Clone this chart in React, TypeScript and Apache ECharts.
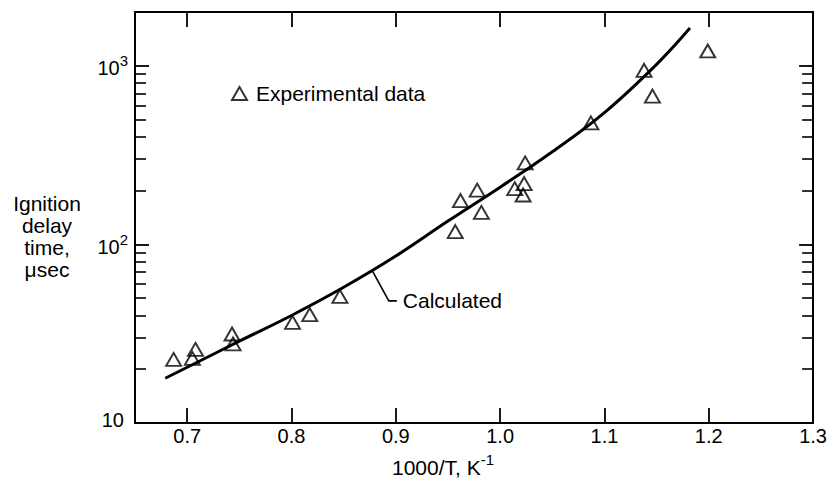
import React, { useEffect, useRef } from "react";
import * as echarts from "echarts";

const FONT = "'Liberation Sans', Arial, Helvetica, sans-serif";

// Axis ticks and labels
const xTickValues = [0.7, 0.8, 0.9, 1.0, 1.1, 1.2];
const xLabelValues = [0.7, 0.8, 0.9, 1.0, 1.1, 1.2, 1.3];
const yLabelValues = [10, 100, 1000];
const yMajorTicks = [100, 1000];
const yMinorTicks = [20, 30, 40, 50, 60, 70, 80, 90, 200, 300, 400, 500, 600, 700, 800, 900];

// Experimental data: [1000/T (1/K), ignition delay (µsec)]
const expX = [0.687, 0.705, 0.708, 0.743, 0.744, 0.801, 0.8175, 0.8464, 0.957, 0.962, 0.978, 0.982, 1.014, 1.022, 1.023, 1.024, 1.087, 1.138, 1.146, 1.199];
const expY = [22.7, 23.0, 25.8, 31.5, 27.7, 36.6, 40.4, 51.2, 118, 176, 201, 151, 205, 189, 219, 286, 479, 943, 677, 1210];

// Calculated curve
const calcX = [0.679, 0.75, 0.8, 0.85, 0.9, 0.95, 1.0, 1.05, 1.1, 1.15, 1.182];
const calcY = [17.8, 28.7, 40.0, 57.5, 86, 135, 209, 330, 547, 1019, 1626];

// Anchor of the "Calculated" leader on the curve
const calcLabelPoint = [0.877, 72];

export default function App() {
  const ref = useRef<HTMLDivElement>(null);

  useEffect(() => {
    if (!ref.current) return;
    const chart = echarts.init(ref.current, undefined, { renderer: "svg" });

    const axisLine = { show: true, lineStyle: { color: "#000", width: 2 } };
    const xAxisBase = {
      type: "value",
      min: 0.65,
      max: 1.3,
      axisLine,
      splitLine: { show: false },
      axisTick: {
        show: true,
        inside: true,
        length: 15,
        customValues: xTickValues,
        lineStyle: { color: "#000", width: 1.8 },
      },
    };
    const yBase = {
      type: "log",
      logBase: 10,
      min: 10,
      max: 2000,
      splitLine: { show: false },
    };

    const option = {
      animation: false,
      backgroundColor: "#fff",
      textStyle: { fontFamily: FONT },
      grid: { left: 135, right: 13, top: 12, bottom: 60, containLabel: false },
      legend: {
        data: ["Experimental data"],
        left: 226,
        top: 78,
        itemWidth: 15,
        itemHeight: 13,
        textStyle: { fontSize: 21, color: "#000", fontFamily: FONT, padding: [0, 0, 0, 4] },
      },
      xAxis: [
        {
          ...xAxisBase,
          position: "bottom",
          axisLabel: {
            show: true,
            customValues: xLabelValues,
            formatter: (v: number) => v.toFixed(1),
            fontSize: 20,
            color: "#000",
            fontFamily: FONT,
            margin: 3,
          },
        },
        {
          ...xAxisBase,
          position: "top",
          axisLabel: { show: false },
        },
      ],
      yAxis: [
        {
          ...yBase,
          position: "left",
          axisLine,
          axisTick: {
            show: true,
            inside: true,
            length: 14,
            customValues: yMajorTicks,
            lineStyle: { color: "#000", width: 1.8 },
          },
          axisLabel: {
            show: true,
            customValues: yLabelValues,
            margin: 7,
            formatter: (v: number) => {
              const e = Math.round(Math.log10(v));
              return e === 1 ? "{b|10}" : "{n|10}{s|" + e + "}";
            },
            rich: {
              n: { fontSize: 20, lineHeight: 25, verticalAlign: "bottom", color: "#000", fontFamily: FONT },
              b: { fontSize: 20, lineHeight: 20, color: "#000", fontFamily: FONT, padding: [0, 4, 6, 0] },
              s: { fontSize: 15, lineHeight: 15, verticalAlign: "top", color: "#000", fontFamily: FONT },
            },
          },
        },
        {
          ...yBase,
          position: "right",
          axisLine,
          axisTick: {
            show: true,
            inside: true,
            length: 14,
            customValues: yMajorTicks,
            lineStyle: { color: "#000", width: 1.8 },
          },
          axisLabel: { show: false },
        },
        {
          ...yBase,
          position: "left",
          axisLine: { show: false },
          axisTick: {
            show: true,
            inside: true,
            length: 11,
            customValues: yMinorTicks,
            lineStyle: { color: "#000", width: 1.6 },
          },
          axisLabel: { show: false },
        },
        {
          ...yBase,
          position: "right",
          axisLine: { show: false },
          axisTick: {
            show: true,
            inside: true,
            length: 11,
            customValues: yMinorTicks,
            lineStyle: { color: "#000", width: 1.6 },
          },
          axisLabel: { show: false },
        },
      ],
      graphic: [
        {
          type: "text",
          x: 47,
          y: 192,
          style: {
            text: "Ignition\ndelay\ntime,\nμsec",
            fill: "#000",
            fontSize: 21,
            fontFamily: FONT,
            lineHeight: 22,
            align: "center",
            verticalAlign: "top",
          },
        },
        {
          type: "text",
          x: 392,
          y: 452,
          style: {
            text: "{a|1000/T, K}{s|-1}",
            fill: "#000",
            fontFamily: FONT,
            align: "left",
            verticalAlign: "top",
            rich: {
              a: { fontSize: 21, lineHeight: 26, verticalAlign: "bottom", fill: "#000", fontFamily: FONT },
              s: { fontSize: 15, lineHeight: 15, verticalAlign: "top", fill: "#000", fontFamily: FONT },
            },
          },
        },
      ],
      series: [
        {
          name: "Calculated",
          type: "line",
          xAxisIndex: 0,
          yAxisIndex: 0,
          data: calcX.map((x, i) => [x, calcY[i]]),
          smooth: 0.4,
          showSymbol: false,
          symbol: "none",
          lineStyle: { color: "#000", width: 3 },
          z: 2,
        },
        {
          name: "Experimental data",
          type: "scatter",
          xAxisIndex: 0,
          yAxisIndex: 0,
          data: expX.map((x, i) => [x, expY[i]]),
          symbol: "triangle",
          symbolSize: [15, 13],
          itemStyle: { color: "rgba(255,255,255,0)", borderColor: "#000", borderWidth: 1.9 },
          z: 3,
        },
        {
          name: "calcLabel",
          type: "custom",
          xAxisIndex: 0,
          yAxisIndex: 0,
          clip: false,
          data: [calcLabelPoint],
          renderItem: (params: any, api: any) => {
            const p = api.coord([api.value(0), api.value(1)]);
            return {
              type: "group",
              children: [
                {
                  type: "polyline",
                  shape: {
                    points: [
                      [p[0], p[1]],
                      [p[0] + 17, p[1] + 31],
                      [p[0] + 25, p[1] + 31],
                    ],
                  },
                  style: { stroke: "#000", lineWidth: 1.6, fill: "none" },
                },
                {
                  type: "text",
                  x: p[0] + 31,
                  y: p[1] + 31,
                  style: {
                    text: "Calculated",
                    fill: "#000",
                    fontSize: 21,
                    fontFamily: FONT,
                    align: "left",
                    verticalAlign: "middle",
                  },
                },
              ],
            };
          },
        },
      ],
    };

    chart.setOption(option as any);
    return () => chart.dispose();
  }, []);

  return (
    <div
      ref={ref}
      style={{ position: "absolute", left: 0, top: 0, width: 830, height: 483, background: "#fff" }}
    />
  );
}
